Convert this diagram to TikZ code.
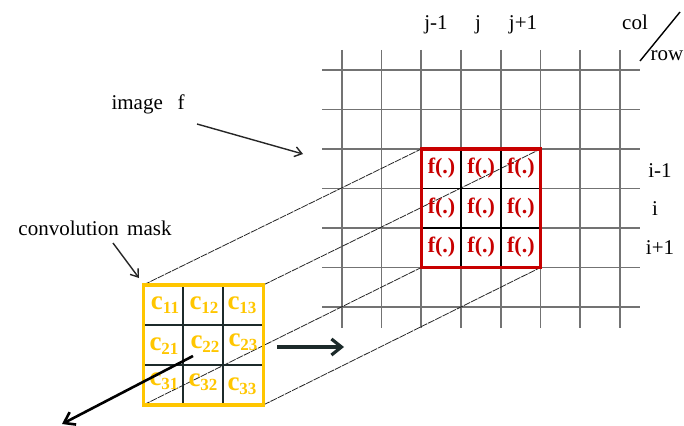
\documentclass[tikz,border=0pt]{standalone}
\usepackage{fontspec}
\setmainfont{Liberation Serif}
\usetikzlibrary{arrows.meta}
\definecolor{maskyellow}{HTML}{FFC600}
\definecolor{boxred}{HTML}{C80000}
\definecolor{griddark}{HTML}{1C2A2A}
\tikzset{
  gridline/.style={draw=black!55, line width=1.6pt},
  proj/.style={draw=black!85, line width=0.8pt, dash pattern=on 7pt off 1pt},
  lbl/.style={inner sep=0pt, font=\fontsize{21}{22}\selectfont},
  fdot/.style={inner sep=0pt, text=boxred, font=\fontsize{22}{22}\selectfont\bfseries},
  cval/.style={inner sep=0pt, text=maskyellow, font=\fontsize{27}{27}\selectfont\bfseries},
  thinarrow/.style={draw=black!85, line width=1.4pt, -{Straight Barb[length=7pt,width=10pt]}},
  thickarrow/.style={draw=griddark, line width=3.2pt, -{Straight Barb[length=10pt,width=16pt,line width=3.2pt]}},
}
\newcommand{\cs}[1]{c\raisebox{-0.3ex}{\fontsize{17}{17}\selectfont #1}}
\begin{document}
\begin{tikzpicture}[x=1pt,y=-1pt]
\useasboundingbox (0,0) rectangle (684,425);
% image grid
\foreach \k in {0,...,7} {
  \draw[gridline] ({341.7+39.76*\k},50) -- ({341.7+39.76*\k},328);
}
\foreach \k in {0,...,6} {
  \draw[gridline] (322,{70+39.5*\k}) -- (640,{70+39.5*\k});
}
% corner coordinates
\coordinate (rTL) at (421.2,149);
\coordinate (rTR) at (540.5,149);
\coordinate (rBL) at (421.2,267.5);
\coordinate (rBR) at (540.5,267.5);
\coordinate (mTL) at (143.3,285);
\coordinate (mTR) at (263.3,285);
\coordinate (mBL) at (143.3,405);
\coordinate (mBR) at (263.3,405);
% projection lines
\draw[proj] (mTL) -- (rTL);
\draw[proj] (mTR) -- (rTR);
\draw[proj] (mBL) -- (rBL);
\draw[proj] (mBR) -- (rBR);
% red window inner lines
\draw[black, line width=1.8pt] (461,149) -- (461,267.5) (500.7,149) -- (500.7,267.5)
  (421.2,188.5) -- (540.5,188.5) (421.2,228) -- (540.5,228);
\draw[boxred, line width=3.2pt] (rTL) rectangle (rBR);
% f(.) labels
\foreach \x [count=\i] in {441.5,481.2,520.9} {
  \foreach \y [count=\j] in {168.5,208,247.5} {
    \node[fdot] (f\j\i) at (\x,\y) {f(.)};
  }
}
% mask
\draw[griddark, line width=2pt] (183.3,285) -- (183.3,405) (223.3,285) -- (223.3,405)
  (143.3,325) -- (263.3,325) (143.3,365) -- (263.3,365);
\draw[maskyellow, line width=3.2pt] (mTL) rectangle (mBR);
\node[cval] (c11) at (165,305) {\cs{11}};
\node[cval] (c12) at (204,305) {\cs{12}};
\node[cval] (c13) at (242,305) {\cs{13}};
\node[cval] (c21) at (164,346) {\cs{21}};
\node[cval] (c22) at (205,344) {\cs{22}};
\node[cval] (c23) at (243,342) {\cs{23}};
\node[cval] (c31) at (164,381) {\cs{31}};
\node[cval] (c32) at (203,382) {\cs{32}};
\node[cval] (c33) at (242,386) {\cs{33}};
% index labels
\node[lbl] (jm) at (436,25) {j-1};
\node[lbl] (j0) at (478,25) {j};
\node[lbl] (jp) at (523,25) {j+1};
\node[lbl] (col) at (635,22) {col};
\node[lbl] (row) at (667,56) {row};
\coordinate (sl1) at (640,61);
\coordinate (sl2) at (680,12);
\draw[black, line width=1.4pt] (sl1) -- (sl2);
\node[lbl] (im1) at (660,171) {i-1};
\node[lbl] (i0) at (655,209) {i};
\node[lbl] (ip1) at (660,248) {i+1};
% captions
\node[lbl] (imgf) at (148,104) {image\hspace{0.7em}f};
\node[lbl] (cmask) at (95,228) {convolution\hspace{0.4em}mask};
\coordinate (a1s) at (197,124);
\coordinate (a1e) at (303,154);
\draw[thinarrow] (a1s) -- (a1e);
\coordinate (a2s) at (113,243);
\coordinate (a2e) at (139,278);
\draw[thinarrow] (a2s) -- (a2e);
% motion arrows
\coordinate (a3s) at (277,347);
\coordinate (a3e) at (344,347);
\draw[thickarrow] (a3s) -- (a3e);
\coordinate (a4s) at (193,356);
\coordinate (a4e) at (62,424);
\draw[draw=black, line width=2.6pt, -{Straight Barb[length=10pt,width=14pt,line width=2.6pt]}] (a4s) -- (a4e);
\end{tikzpicture}
\end{document}
